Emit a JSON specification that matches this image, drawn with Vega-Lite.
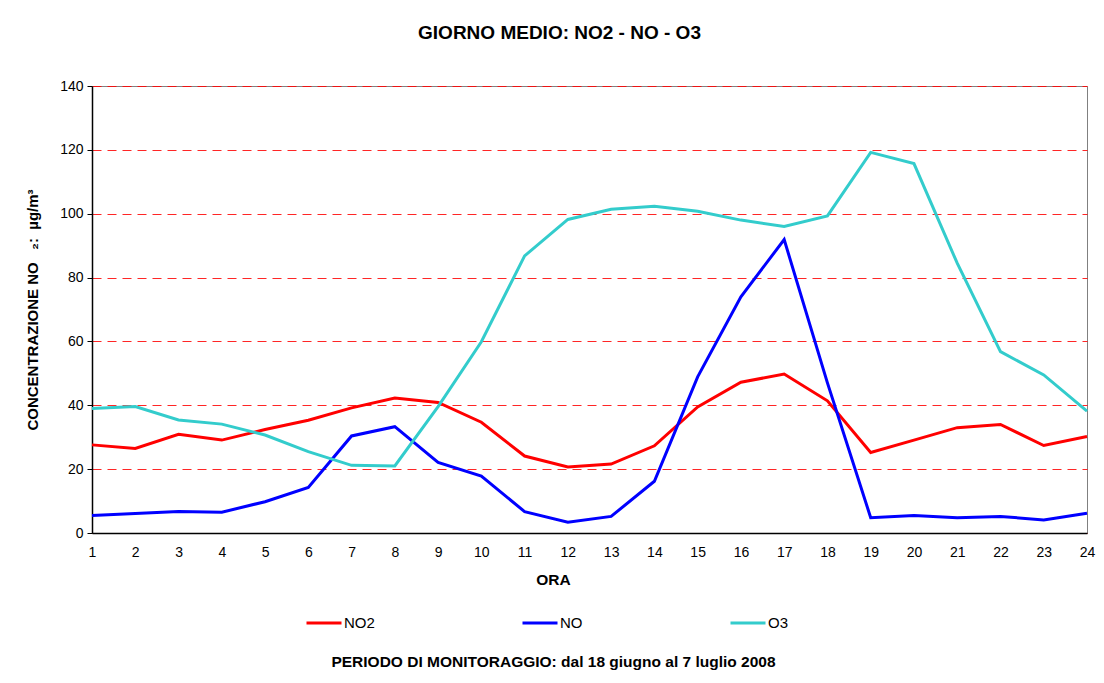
{
  "$schema": "https://vega.github.io/schema/vega-lite/v6.json",
  "width": 995,
  "height": 447,
  "autosize": {"type": "none"},
  "padding": {"left": 92, "top": 86, "right": 17, "bottom": 150},
  "background": "white",
  "title": {
    "text": "GIORNO MEDIO: NO2 - NO - O3",
    "anchor": "middle",
    "frame": "group",
    "dx": -30,
    "offset": 36,
    "fontSize": 19,
    "fontWeight": "bold",
    "font": "Liberation Sans",
    "color": "black"
  },
  "config": {
    "font": "Liberation Sans",
    "view": {"stroke": "#808080", "strokeWidth": 1},
    "axis": {"labelColor": "black", "titleColor": "black", "labelFont": "Liberation Sans", "titleFont": "Liberation Sans"}
  },
  "data": {
    "values": [
      {"ora": 1, "inquinante": "NO2", "valore": 27.6},
      {"ora": 2, "inquinante": "NO2", "valore": 26.5},
      {"ora": 3, "inquinante": "NO2", "valore": 30.9},
      {"ora": 4, "inquinante": "NO2", "valore": 29.1},
      {"ora": 5, "inquinante": "NO2", "valore": 32.4},
      {"ora": 6, "inquinante": "NO2", "valore": 35.3},
      {"ora": 7, "inquinante": "NO2", "valore": 39.2},
      {"ora": 8, "inquinante": "NO2", "valore": 42.3},
      {"ora": 9, "inquinante": "NO2", "valore": 40.9},
      {"ora": 10, "inquinante": "NO2", "valore": 34.7},
      {"ora": 11, "inquinante": "NO2", "valore": 24.1},
      {"ora": 12, "inquinante": "NO2", "valore": 20.7},
      {"ora": 13, "inquinante": "NO2", "valore": 21.6},
      {"ora": 14, "inquinante": "NO2", "valore": 27.3},
      {"ora": 15, "inquinante": "NO2", "valore": 39.5},
      {"ora": 16, "inquinante": "NO2", "valore": 47.2},
      {"ora": 17, "inquinante": "NO2", "valore": 49.8},
      {"ora": 18, "inquinante": "NO2", "valore": 41.4},
      {"ora": 19, "inquinante": "NO2", "valore": 25.2},
      {"ora": 20, "inquinante": "NO2", "valore": 29.1},
      {"ora": 21, "inquinante": "NO2", "valore": 33.0},
      {"ora": 22, "inquinante": "NO2", "valore": 34.0},
      {"ora": 23, "inquinante": "NO2", "valore": 27.4},
      {"ora": 24, "inquinante": "NO2", "valore": 30.2},
      {"ora": 1, "inquinante": "NO", "valore": 5.5},
      {"ora": 2, "inquinante": "NO", "valore": 6.1},
      {"ora": 3, "inquinante": "NO", "valore": 6.7},
      {"ora": 4, "inquinante": "NO", "valore": 6.5},
      {"ora": 5, "inquinante": "NO", "valore": 9.8},
      {"ora": 6, "inquinante": "NO", "valore": 14.3},
      {"ora": 7, "inquinante": "NO", "valore": 30.4},
      {"ora": 8, "inquinante": "NO", "valore": 33.3},
      {"ora": 9, "inquinante": "NO", "valore": 22.1},
      {"ora": 10, "inquinante": "NO", "valore": 17.8},
      {"ora": 11, "inquinante": "NO", "valore": 6.7},
      {"ora": 12, "inquinante": "NO", "valore": 3.4},
      {"ora": 13, "inquinante": "NO", "valore": 5.2},
      {"ora": 14, "inquinante": "NO", "valore": 16.2},
      {"ora": 15, "inquinante": "NO", "valore": 48.9},
      {"ora": 16, "inquinante": "NO", "valore": 74.0},
      {"ora": 17, "inquinante": "NO", "valore": 91.9},
      {"ora": 18, "inquinante": "NO", "valore": 47.0},
      {"ora": 19, "inquinante": "NO", "valore": 4.8},
      {"ora": 20, "inquinante": "NO", "valore": 5.5},
      {"ora": 21, "inquinante": "NO", "valore": 4.8},
      {"ora": 22, "inquinante": "NO", "valore": 5.2},
      {"ora": 23, "inquinante": "NO", "valore": 4.1},
      {"ora": 24, "inquinante": "NO", "valore": 6.2},
      {"ora": 1, "inquinante": "O3", "valore": 39.0},
      {"ora": 2, "inquinante": "O3", "valore": 39.6},
      {"ora": 3, "inquinante": "O3", "valore": 35.4},
      {"ora": 4, "inquinante": "O3", "valore": 34.1},
      {"ora": 5, "inquinante": "O3", "valore": 30.7},
      {"ora": 6, "inquinante": "O3", "valore": 25.5},
      {"ora": 7, "inquinante": "O3", "valore": 21.2},
      {"ora": 8, "inquinante": "O3", "valore": 21.0},
      {"ora": 9, "inquinante": "O3", "valore": 39.6},
      {"ora": 10, "inquinante": "O3", "valore": 59.9},
      {"ora": 11, "inquinante": "O3", "valore": 86.8},
      {"ora": 12, "inquinante": "O3", "valore": 98.2},
      {"ora": 13, "inquinante": "O3", "valore": 101.4},
      {"ora": 14, "inquinante": "O3", "valore": 102.3},
      {"ora": 15, "inquinante": "O3", "valore": 100.8},
      {"ora": 16, "inquinante": "O3", "valore": 98.0},
      {"ora": 17, "inquinante": "O3", "valore": 96.0},
      {"ora": 18, "inquinante": "O3", "valore": 99.3},
      {"ora": 19, "inquinante": "O3", "valore": 119.2},
      {"ora": 20, "inquinante": "O3", "valore": 115.7},
      {"ora": 21, "inquinante": "O3", "valore": 84.5},
      {"ora": 22, "inquinante": "O3", "valore": 56.8},
      {"ora": 23, "inquinante": "O3", "valore": 49.5},
      {"ora": 24, "inquinante": "O3", "valore": 38.2}
    ]
  },
  "mark": {"type": "line", "strokeWidth": 3, "strokeJoin": "miter"},
  "encoding": {
    "x": {
      "field": "ora",
      "type": "quantitative",
      "scale": {"domain": [1, 24], "nice": false, "zero": false},
      "axis": {
        "values": [1,2,3,4,5,6,7,8,9,10,11,12,13,14,15,16,17,18,19,20,21,22,23,24],
        "format": "d",
        "grid": false,
        "ticks": false,
        "labelFlush": false,
        "domainColor": "black",
        "domainWidth": 1.5,
        "labelFontSize": 14,
        "labelPadding": 12,
        "title": ["ORA", "PERIODO DI MONITORAGGIO: dal 18 giugno al 7 luglio 2008"],
        "titleFontSize": 15.5,
        "titleFontWeight": "bold",
        "titleLineHeight": 82,
        "titleX": 461,
        "titleAlign": "center",
        "titlePadding": 13
      }
    },
    "y": {
      "field": "valore",
      "type": "quantitative",
      "scale": {"domain": [0, 140], "nice": false},
      "axis": {
        "values": [0, 20, 40, 60, 80, 100, 120, 140],
        "grid": true,
        "gridColor": "#ff0000",
        "gridDash": [9, 6],
        "gridOpacity": 0.85,
        "gridWidth": 1,
        "domainColor": "black",
        "domainWidth": 1.5,
        "tickColor": "black",
        "tickSize": 5,
        "labelFontSize": 14,
        "labelPadding": 4,
        "title": "CONCENTRAZIONE NO\u00a0\u00a0\u00a0₂:\u00a0\u00a0µg/m³",
        "titleFontSize": 15,
        "titleFontWeight": "bold",
        "titlePadding": 19
      }
    },
    "color": {
      "field": "inquinante",
      "type": "nominal",
      "scale": {"domain": ["NO2", "NO", "O3"], "range": ["#ff0000", "#0000ff", "#33cccc"]},
      "legend": {
        "title": null,
        "orient": "none",
        "direction": "horizontal",
        "columns": 3,
        "gridAlign": "each",
        "columnPadding": 141,
        "legendX": 213,
        "legendY": 518,
        "symbolType": "stroke",
        "symbolSize": 1225,
        "symbolStrokeWidth": 3,
        "labelFontSize": 15,
        "labelColor": "black",
        "labelOffset": 1
      }
    }
  }
}
